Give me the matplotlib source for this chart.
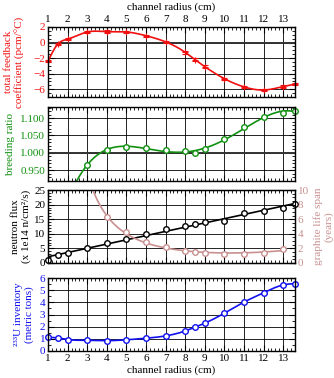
import numpy as np
import matplotlib.pyplot as plt
from matplotlib.ticker import MultipleLocator

plt.rcParams['font.family'] = ['Liberation Serif', 'DejaVu Serif']
plt.rcParams['font.size'] = 8

# data
radius = [1, 1.5, 2, 3, 4, 5, 6, 7, 8, 8.5, 9, 10, 11, 12, 13, 13.6]
feedback = [-2.4, -0.2, 0.44, 1.36, 1.4, 1.36, 0.88, 0.09, -1.26, -2.2, -3.1,
            -4.65, -5.7, -6.1, -5.66, -5.35]

br_radius = [3, 4, 5, 6, 7, 8, 8.5, 9, 10, 11, 12, 13, 13.6]
breeding = [0.966, 1.008, 1.018, 1.014, 1.007, 1.005, 1.000, 1.010, 1.040,
            1.074, 1.102, 1.115, 1.121]

flux = [1.0, 2.6, 3.5, 5.3, 6.8, 8.3, 9.9, 11.5, 12.7, 13.2, 13.9, 14.3,
        17.1, 17.9, 18.9, 20.2]

life_radius = [4, 5, 6, 7, 8, 8.5, 9, 10, 11, 12, 13]
life_span = [6.3, 4.2, 2.9, 2.2, 1.7, 1.55, 1.35, 1.2, 1.2, 1.4, 1.95]

inventory = [1.13, 1.07, 0.94, 0.88, 0.85, 0.92, 1.05, 1.24, 1.65, 1.96, 2.29,
             3.11, 4.02, 4.79, 5.43, 5.54]

red = '#f01010'
green = '#109010'
blue = '#1010f0'
rose = '#c89090'


def spline(x, y, xs):
    # natural cubic spline through the points
    x = np.asarray(x, float)
    y = np.asarray(y, float)
    n = len(x)
    h = np.diff(x)
    A = np.zeros((n, n))
    r = np.zeros(n)
    A[0, 0] = A[-1, -1] = 1
    for i in range(1, n - 1):
        A[i, i - 1] = h[i - 1]
        A[i, i] = 2 * (h[i - 1] + h[i])
        A[i, i + 1] = h[i]
        r[i] = 3 * ((y[i + 1] - y[i]) / h[i] - (y[i] - y[i - 1]) / h[i - 1])
    c = np.linalg.solve(A, r)
    b = np.diff(y) / h - h * (2 * c[:-1] + c[1:]) / 3
    d = np.diff(c) / (3 * h)
    k = np.clip(np.searchsorted(x, xs) - 1, 0, n - 2)
    dx = xs - x[k]
    return y[k] + b[k] * dx + c[k] * dx ** 2 + d[k] * dx ** 3


def life_basis(x):
    x = np.asarray(x, float)
    return np.column_stack([np.ones_like(x), x ** -2.3, x ** 4])


fig = plt.figure(figsize=(3.34, 3.78), dpi=100)
L, W = 48 / 334, 247 / 334
rows = [(27, 97), (107, 181), (190, 263), (278, 351)]
axes = [fig.add_axes([L, 1 - b / 378, W, (b - t) / 378]) for t, b in rows]


def style(ax, ymaj, ymin):
    ax.set_xlim(1, 13.6)
    ax.xaxis.set_major_locator(MultipleLocator(1))
    ax.xaxis.set_minor_locator(MultipleLocator(0.2))
    ax.yaxis.set_major_locator(MultipleLocator(ymaj))
    ax.yaxis.set_minor_locator(MultipleLocator(ymin))
    ax.tick_params(which='both', direction='in', top=True, right=True,
                   labeltop=False, labelbottom=False, pad=2, labelsize=8)
    ax.tick_params(which='major', length=4, width=0.8)
    ax.tick_params(which='minor', length=2, width=0.6)
    ax.grid(True, which='major', color='black', linewidth=0.6)
    for s in ax.spines.values():
        s.set_linewidth(1.0)


xs = np.linspace(1, 13.6, 300)

# panel 1: total feedback coefficient
ax = axes[0]
style(ax, 2, 0.5)
ax.set_ylim(-7, 2)
ax.axhline(0, color='#333333', linewidth=1.4)
ax.plot(xs, spline(radius, feedback, xs), color=red, linewidth=1.2)
ax.errorbar(radius, feedback, yerr=0.15, fmt='+', color=red, ms=4,
            capsize=2, elinewidth=0.8, mew=0.8, clip_on=False)
ax.tick_params(axis='y', labelcolor=red)
ax.tick_params(labeltop=True)
ax.xaxis.set_label_position('top')
ax.set_xlabel('channel radius (cm)', fontsize=8, labelpad=4)
ax.set_ylabel('total feedback\ncoefficient (pcm/°C)', color=red,
              fontsize=8, labelpad=6)

# panel 2: breeding ratio
ax = axes[1]
style(ax, 0.05, 0.01)
ax.set_ylim(0.919, 1.132)
ax.yaxis.set_major_formatter(plt.FormatStrFormatter('%.3f'))
ax.axhline(1.0, color='#333333', linewidth=1.4)
coef = np.polyfit(br_radius, breeding, 5)
xg = np.linspace(2.3, 13.6, 300)
ax.plot(xg, np.polyval(coef, xg), color=green, linewidth=1.2)
ax.plot(br_radius, breeding, 'o', color=green, mfc='white', ms=4, mew=1.0,
        clip_on=False)
ax.tick_params(axis='y', labelcolor=green)
ax.set_ylabel('breeding ratio', color=green, fontsize=8, labelpad=4)

# panel 3: neutron flux and graphite life span
ax = axes[2]
style(ax, 5, 1)
ax.tick_params(right=False, which='both')
ax.set_ylim(0, 25)
coef = np.polyfit(radius, flux, 1)
ax.plot(xs, np.polyval(coef, xs), color='black', linewidth=1.2, zorder=4)
ax.plot(radius, flux, 'o', color='black', mfc='white', ms=4, mew=1.0,
        clip_on=False, zorder=5)
ax.set_ylabel('neutron flux\n(x 1e14 n/cm²/s)', fontsize=8, labelpad=2)

ax2 = ax.twinx()
ax2.set_xlim(1, 13.6)
ax2.set_ylim(0, 10)
ax2.yaxis.set_major_locator(MultipleLocator(2))
ax2.yaxis.set_minor_locator(MultipleLocator(0.5))
ax2.tick_params(which='both', direction='in', labelcolor=rose, pad=2,
                labelsize=8)
ax2.tick_params(which='major', length=4, width=0.8)
ax2.tick_params(which='minor', length=2, width=0.6)
c, *_ = np.linalg.lstsq(life_basis(life_radius), np.asarray(life_span),
                        rcond=None)
xr = np.linspace(2.8, 13, 300)
ax2.plot(xr, life_basis(xr) @ c, color=rose, linewidth=1.2)
ax2.plot(life_radius, life_span, 'o', color=rose, mfc='white', ms=4,
         mew=1.0, clip_on=False)
ax2.set_ylabel('graphite life span\n(years)', color=rose, fontsize=8,
               labelpad=3)

# panel 4: U-233 inventory
ax = axes[3]
style(ax, 1, 0.5)
ax.set_ylim(0, 6)
ax.plot(xs, spline(radius, inventory, xs), color=blue, linewidth=1.2)
ax.plot(radius, inventory, 'o', color=blue, mfc='white', ms=4, mew=1.0,
        clip_on=False)
ax.tick_params(axis='y', labelcolor=blue)
ax.tick_params(labelbottom=True)
ax.set_xlabel('channel radius (cm)', fontsize=8, labelpad=2)
ax.set_ylabel('²³³U inventory\n(metric tons)', color=blue, fontsize=8,
              labelpad=4)

plt.savefig('out.png', dpi=100)
